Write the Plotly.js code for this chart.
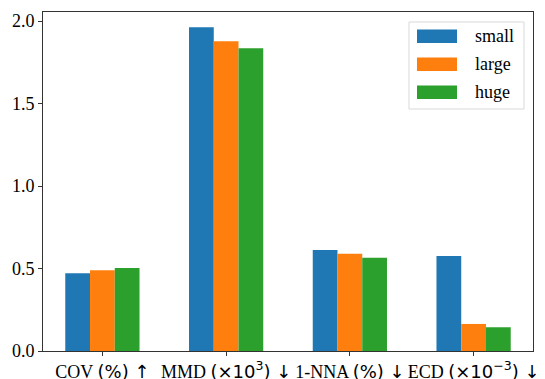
<!DOCTYPE html>
<html>
<head>
<meta charset="utf-8">
<script src="https://cdn.plot.ly/plotly-3.0.1.min.js"></script>
<style>html,body{margin:0;padding:0;background:#fff;}#chart{width:545px;height:379px;}</style>
</head>
<body>
<div id="chart"></div>
<script>
const categories = ["COV", "MMD", "1-NNA", "ECD"];
const S = "<span style=\"font-family:'DejaVu Sans'\">";
const tickLabels = [
  "COV " + S + "(%) ↑</span>",
  "MMD " + S + "(×10<sup>3</sup>) ↓</span>",
  "1-NNA " + S + "(%) ↓</span>",
  "ECD " + S + "(×10<sup>−3</sup>) ↓</span>"
];
const seriesNames = ["small", "large", "huge"];
const small = [0.472, 1.962, 0.612, 0.576];
const large = [0.489, 1.877, 0.590, 0.164];
const huge  = [0.503, 1.835, 0.566, 0.144];
const colors = ["#1f77b4", "#ff7f0e", "#2ca02c"];
const yTicks = [0, 0.5, 1.0, 1.5, 2.0];
const yTickText = ["0.0", "0.5", "1.0", "1.5", "2.0"];

const SERIF = "Liberation Serif, Times New Roman, serif";

const seriesValues = [small, large, huge];
const traces = seriesValues.map((vals, i) => ({
  type: "bar",
  name: seriesNames[i],
  x: categories,
  y: vals,
  marker: {color: colors[i], line: {width: 0}},
  showlegend: false,
  hoverinfo: "skip"
}));

// custom matplotlib-like legend (decoration in paper coordinates)
const W = 490, H = 339; // plot area px
const px = v => v / W, py = v => v / H;
const shapes = [{
  type: "rect", xref: "paper", yref: "paper",
  x0: px(409 - 43), x1: px(524 - 43), y0: 1 - py(109 - 12), y1: 1 - py(22 - 12),
  line: {color: "#d9d9d9", width: 1}, fillcolor: "rgba(255,255,255,0.8)", layer: "above"
}];
const annotations = [];
seriesNames.forEach((n, i) => {
  const top = 29.5 + i * 28;
  shapes.push({
    type: "rect", xref: "paper", yref: "paper",
    x0: px(417 - 43), x1: px(457 - 43), y0: 1 - py(top + 13.5 - 12), y1: 1 - py(top - 12),
    line: {width: 0}, fillcolor: colors[i], layer: "above"
  });
  annotations.push({
    xref: "paper", yref: "paper", x: px(473 - 43), y: 1 - py(top + 6.5 - 12),
    xanchor: "left", yanchor: "middle", showarrow: false, text: n,
    font: {family: SERIF, size: 18, color: "#000"}
  });
});

const layout = {
  width: 545, height: 379,
  margin: {l: 43, r: 12, t: 12, b: 28, pad: 0},
  paper_bgcolor: "#fff", plot_bgcolor: "#fff",
  barmode: "group", bargap: 0.4, bargroupgap: 0,
  font: {family: SERIF, size: 18, color: "#000"},
  xaxis: {
    type: "category", range: [-0.48, 3.48],
    tickvals: categories, ticktext: tickLabels,
    showline: true, mirror: true, linecolor: "#333", linewidth: 1,
    ticks: "outside", ticklen: 4, tickcolor: "#333", tickwidth: 1,
    showgrid: false, zeroline: false,
    tickfont: {family: SERIF, size: 18, color: "#000"}
  },
  yaxis: {
    range: [0, 2.055],
    tickvals: yTicks, ticktext: yTickText,
    showline: true, mirror: true, linecolor: "#333", linewidth: 1,
    ticks: "outside", ticklen: 4, tickcolor: "#333", tickwidth: 1,
    showgrid: false, zeroline: false,
    tickfont: {family: SERIF, size: 18, color: "#000"}
  },
  shapes: shapes,
  annotations: annotations
};

Plotly.newPlot("chart", traces, layout, {staticPlot: true, displayModeBar: false});
</script>
</body>
</html>
